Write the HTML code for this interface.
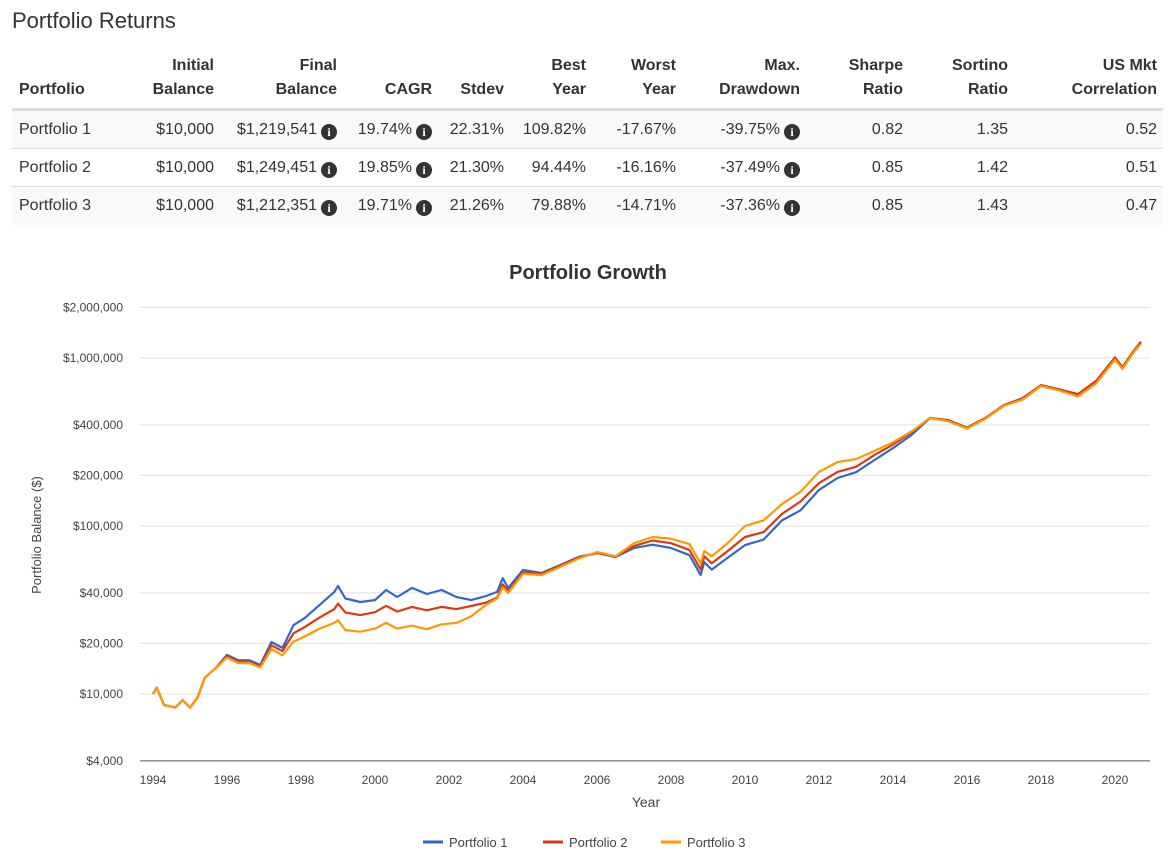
<!DOCTYPE html>
<html><head><meta charset="utf-8"><style>
body{margin:0;width:1170px;height:858px;background:#fff;font-family:"Liberation Sans",Arial,sans-serif;color:#333;position:relative;overflow:hidden}
.a{position:absolute;white-space:nowrap}
.h{font-weight:bold;font-size:16px;text-align:right;line-height:24px}
.c{font-size:16px;text-align:right}
.row{position:absolute;left:12px;width:1151px;height:38px;border-top:1px solid #ddd}
.i{display:inline-block;width:16px;height:16px;border-radius:50%;background:#333;color:#fff;font-size:12px;font-weight:bold;text-align:center;line-height:16px;vertical-align:-2px;margin-left:4px;font-family:"Liberation Serif",serif}
</style></head><body>
<div class="a" style="left:12px;top:8px;font-size:22px;color:#333">Portfolio Returns</div>
<div class="a" style="left:12px;top:108px;width:1151px;height:3px;background:#ddd"></div>
<div id="tbl"></div>
<svg id="ch" width="1170" height="858" style="position:absolute;left:0;top:0"></svg>
<script>
const headers=[["Portfolio",null,19,"left"],["Initial","Balance",214],["Final","Balance",337],["","CAGR",432],["","Stdev",504],["Best","Year",586],["Worst","Year",676],["Max.","Drawdown",800],["Sharpe","Ratio",903],["Sortino","Ratio",1008],["US Mkt","Correlation",1157]];
const rows=[["Portfolio 1","$10,000","$1,219,541","19.74%","22.31%","109.82%","-17.67%","-39.75%","0.82","1.35","0.52"],
["Portfolio 2","$10,000","$1,249,451","19.85%","21.30%","94.44%","-16.16%","-37.49%","0.85","1.42","0.51"],
["Portfolio 3","$10,000","$1,212,351","19.71%","21.26%","79.88%","-14.71%","-37.36%","0.85","1.43","0.47"]];
const rights=[0,214,337,432,504,586,676,800,903,1008,1157];
const icons={2:1,3:1,7:1};
let h='';
headers.forEach((c,k)=>{
 if(k===0){h+=`<div class="a h" style="left:19px;top:78px;text-align:left">Portfolio</div>`;return;}
 h+=`<div class="a h" style="right:${1170-c[2]}px;top:54px">${c[0]||'&nbsp;'}<br>${c[1]}</div>`;
});
rows.forEach((r,i)=>{
 const top=111+i*38;
 h+=`<div class="row" style="top:${top-1}px;background:${i===1?'#fff':'#f9f9f9'}"></div>`;
 r.forEach((v,k)=>{
  if(k===0){h+=`<div class="a c" style="left:19px;top:${top+10}px">${v}</div>`;return;}
  const ic=icons[k]?'<span class="i">i</span>':'';
  h+=`<div class="a c" style="right:${1170-rights[k]}px;top:${top+10}px">${v}${ic}</div>`;
 });
});
document.getElementById('tbl').innerHTML=h;

// chart data
const dates=[1994.0,1994.1,1994.3,1994.6,1994.8,1995.0,1995.2,1995.4,1995.7,1996.0,1996.3,1996.6,1996.9,1997.2,1997.5,1997.8,1998.1,1998.5,1998.9,1999.0,1999.2,1999.6,2000.0,2000.3,2000.6,2001.0,2001.4,2001.8,2002.2,2002.6,2003.0,2003.3,2003.45,2003.6,2004.0,2004.5,2005.0,2005.5,2006.0,2006.5,2007.0,2007.5,2008.0,2008.5,2008.8,2008.9,2009.1,2009.5,2010.0,2010.5,2011.0,2011.5,2012.0,2012.5,2013.0,2013.5,2014.0,2014.5,2015.0,2015.5,2016.0,2016.5,2017.0,2017.5,2018.0,2018.5,2019.0,2019.5,2020.0,2020.2,2020.5,2020.7];
const p1=[10,10.9,8.6,8.3,9.2,8.3,9.5,12.5,14.3,17.1,15.9,15.9,14.9,20.4,18.8,25.7,28.3,33.8,40.5,44,37,35.3,36.2,41.6,37.8,42.8,39.4,41.6,37.8,36.2,38.3,40.5,48.9,42.8,54.8,52.5,58.5,65.4,69,65.4,74,77.4,74,67,51,61,55,64,77,83,108,124,164,193,209,247,291,348,439,427,383,439,524,576,687,648,604,728,1000,869,1085,1240];
const p2=[10,10.9,8.6,8.3,9.2,8.3,9.5,12.5,14.3,16.8,15.6,15.6,14.6,19.5,18,23,25,28.5,32,34.5,30.5,29.5,30.7,33.5,31,33,31.5,33,32,33.4,35,37.5,45,41,53,52,58,65,69,66,76,82,79,72,55,66,60,70,86,92,118,140,180,210,225,265,305,360,440,425,385,440,525,575,690,650,610,735,1010,880,1100,1250];
const p3=[10,10.9,8.6,8.3,9.2,8.3,9.5,12.5,14.3,16.5,15.3,15.3,14.4,18.5,17,20.5,22,24.5,26.5,27.5,24,23.5,24.5,26.5,24.5,25.5,24.3,26,26.5,29,34,37,43,40,52,51,57,64,70,66,79,86,84,78,60,71,66,78,100,108,135,160,210,240,250,280,315,365,440,420,380,435,520,565,680,640,590,710,980,860,1080,1215];
const yTicks=[4000,10000,20000,40000,100000,200000,400000,1000000,2000000];
const yTickLabels=["$4,000","$10,000","$20,000","$40,000","$100,000","$200,000","$400,000","$1,000,000","$2,000,000"];
const xTicks=[1994,1996,1998,2000,2002,2004,2006,2008,2010,2012,2014,2016,2018,2020];
const seriesNames=["Portfolio 1","Portfolio 2","Portfolio 3"];
const colors=["#3366cc","#dc3912","#ff9900"];

const X=d=>153+(d-1994)*(1115-153)/26;
const Y=v=>694-168*Math.log10(v/10000);
const svg=document.getElementById('ch');
const NS='http://www.w3.org/2000/svg';
function mk(t,a,txt){const e=document.createElementNS(NS,t);for(const k in a)e.setAttribute(k,a[k]);if(txt!=null)e.textContent=txt;svg.appendChild(e);return e;}
let e=mk('text',{x:588,y:279,'text-anchor':'middle','font-size':20,'font-weight':'bold',fill:'#333'},'Portfolio Growth');


yTicks.forEach((v,i)=>{
 const y=Y(v);
 e=mk('line',{x1:140,x2:1150,y1:y,y2:y,stroke:i===0?'#555':'#e0e0e0','stroke-width':1});
 
 
 e=mk('text',{x:123,y:y+4,'text-anchor':'end','font-size':12,fill:'#444'},yTickLabels[i]);
 
 
});
xTicks.forEach(d=>{
 e=mk('text',{x:X(d),y:784,'text-anchor':'middle','font-size':12,fill:'#444'},String(d));
 
 
});
e=mk('text',{x:646,y:807,'text-anchor':'middle','font-size':14,fill:'#444'},'Year');


e=mk('text',{x:0,y:0,'text-anchor':'middle','font-size':13,fill:'#444',transform:'translate(41,535) rotate(-90)'},'Portfolio Balance ($)');


[p1,p2,p3].forEach((s,i)=>{
 const pts=s.map((v,k)=>X(dates[k]).toFixed(1)+','+Y(v*1000).toFixed(1)).join(' ');
 e=mk('polyline',{points:pts,fill:'none',stroke:colors[i],'stroke-width':2.2,'stroke-linejoin':'round'});
 
 
});
const lx=[423,543,661];
seriesNames.forEach((n,i)=>{
 e=mk('line',{x1:lx[i],x2:lx[i]+20,y1:842,y2:842,stroke:colors[i],'stroke-width':3});
 
 
 e=mk('text',{x:lx[i]+26,y:847,'font-size':13,fill:'#444'},n);
 
 
});
</script>
</body></html>
